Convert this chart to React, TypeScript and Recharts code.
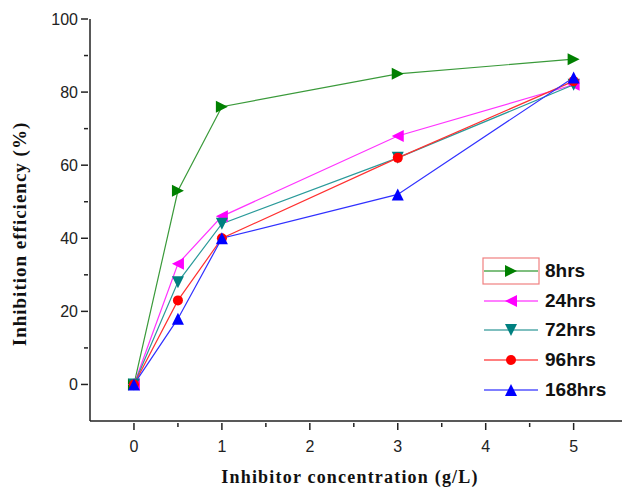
import { LineChart, Line, XAxis, YAxis, Legend } from "recharts";

const concentrations = [0, 0.5, 1, 3, 5];
const hrs8 = [0, 53, 76, 85, 89];
const hrs24 = [0, 33, 46, 68, 82];
const hrs72 = [0, 28, 44, 62, 82];
const hrs96 = [0, 23, 40, 62, 83];
const hrs168 = [0, 18, 40, 52, 84];

const xTicks = [-0.5, 0, 0.5, 1, 1.5, 2, 2.5, 3, 3.5, 4, 4.5, 5, 5.5];
const yTicks = [-10, 0, 10, 20, 30, 40, 50, 60, 70, 80, 90, 100];

const data = concentrations.map((c, i) => ({
  c,
  h8: hrs8[i],
  h24: hrs24[i],
  h72: hrs72[i],
  h96: hrs96[i],
  h168: hrs168[i],
}));

type Shape = "right" | "left" | "down" | "circle" | "up";

const series: { key: string; name: string; color: string; line: string; shape: Shape }[] = [
  { key: "h8", name: "8hrs", color: "#008000", line: "#3a9a3a", shape: "right" },
  { key: "h24", name: "24hrs", color: "#ff00ff", line: "#ff33ff", shape: "left" },
  { key: "h72", name: "72hrs", color: "#008080", line: "#2a9a9a", shape: "down" },
  { key: "h96", name: "96hrs", color: "#ff0000", line: "#ff3030", shape: "circle" },
  { key: "h168", name: "168hrs", color: "#0000ff", line: "#3030ff", shape: "up" },
];

const serif = "Times New Roman, Liberation Serif";
const sans = "Arial, Liberation Sans";

function Marker({ cx, cy, shape, color }: { cx: number; cy: number; shape: Shape; color: string }) {
  const r = 6;
  if (shape === "circle") return <circle cx={cx} cy={cy} r={5} fill={color} />;
  let pts = "";
  if (shape === "right") pts = `${cx - r},${cy - r} ${cx + r},${cy} ${cx - r},${cy + r}`;
  if (shape === "left") pts = `${cx + r},${cy - r} ${cx - r},${cy} ${cx + r},${cy + r}`;
  if (shape === "down") pts = `${cx - r},${cy - r} ${cx + r},${cy - r} ${cx},${cy + r}`;
  if (shape === "up") pts = `${cx - r},${cy + r} ${cx + r},${cy + r} ${cx},${cy - r}`;
  return <polygon points={pts} fill={color} />;
}

const XTick = (props: any) => {
  const { x, y, payload } = props;
  const v = payload.value;
  const major = Number.isInteger(v);
  if (v < -0.4 || v > 5.4) return <g />;
  return (
    <g>
      <line x1={x} y1={y} x2={x} y2={y + (major ? 7 : 4)} stroke="#222" strokeWidth={1.5} />
      {major && (
        <text x={x} y={y + 29} textAnchor="middle" fontFamily={sans} fontSize={16} fill="#222">
          {v}
        </text>
      )}
    </g>
  );
};

const YTick = (props: any) => {
  const { x, y, payload } = props;
  const v = payload.value;
  if (v === -10) return <g />;
  const major = v % 20 === 0;
  return (
    <g>
      <line x1={x} y1={y} x2={x - (major ? 7 : 4)} y2={y} stroke="#222" strokeWidth={1.5} />
      {major && (
        <text x={x - 10} y={y + 6} textAnchor="end" fontFamily={sans} fontSize={16} fill="#222">
          {v}
        </text>
      )}
    </g>
  );
};

const XLabel = () => (
  <text x={350} y={483} textAnchor="middle" fontFamily={serif} fontWeight="bold" fontSize={18} letterSpacing={1.2} fill="#111">
    Inhibitor concentration (g/L)
  </text>
);

const YLabel = () => (
  <text
    x={26}
    y={234}
    transform="rotate(-90 26 234)"
    textAnchor="middle"
    fontFamily={serif}
    fontWeight="bold"
    fontSize={19}
    letterSpacing={1}
    fill="#111"
  >
    Inhibition efficiency (%)
  </text>
);

const LegendBox = () => (
  <div style={{ fontFamily: sans, fontWeight: "bold", fontSize: 19 }}>
    {series.map((s, i) => (
      <div key={s.key} style={{ display: "flex", alignItems: "center", height: 29.7 }}>
        <svg width={58} height={28}>
          {i === 0 && <rect x={1} y={1} width={56} height={26} fill="none" stroke="#f08080" strokeWidth={1.2} />}
          <line x1={2} y1={14} x2={56} y2={14} stroke={s.color} strokeWidth={1.2} />
          <Marker cx={29} cy={14} shape={s.shape} color={s.color} />
        </svg>
        <span style={{ marginLeft: 5, color: "#111" }}>{s.name}</span>
      </div>
    ))}
  </div>
);

export default function App() {
  return (
    <div style={{ position: "absolute", left: 0, top: 0, background: "#fff" }}>
      <LineChart width={622} height={491} data={data} margin={{ top: 19, right: 0, left: 0, bottom: 0 }}>
        <XAxis
          dataKey="c"
          type="number"
          domain={[-0.5, 5.55]}
          ticks={xTicks}
          interval={0}
          height={70}
          tickLine={false}
          tickSize={0}
          tick={<XTick />}
          axisLine={{ stroke: "#222", strokeWidth: 1.5 }}
          label={<XLabel />}
        />
        <XAxis
          xAxisId="top"
          orientation="top"
          dataKey="c"
          type="number"
          domain={[-0.5, 5.55]}
          height={0}
          tick={false}
          tickLine={false}
          axisLine={{ stroke: "#333", strokeWidth: 1.5 }}
        />
        <YAxis
          type="number"
          domain={[-10, 100]}
          ticks={yTicks}
          interval={0}
          width={90}
          tickLine={false}
          tickSize={0}
          tick={<YTick />}
          axisLine={{ stroke: "#222", strokeWidth: 1.5 }}
          label={<YLabel />}
        />
        {series.map((s) => (
          <Line
            key={s.key}
            dataKey={s.key}
            name={s.name}
            type="linear"
            stroke={s.line}
            strokeWidth={1.2}
            isAnimationActive={false}
            dot={(p: any) => <Marker key={`${s.key}-${p.index}`} cx={p.cx} cy={p.cy} shape={s.shape} color={s.color} />}
            activeDot={false}
          />
        ))}
        <Legend
          layout="horizontal"
          verticalAlign="middle"
          align="center"
          content={<LegendBox />}
          wrapperStyle={{ left: 482, top: 256, width: 140 }}
        />
      </LineChart>
    </div>
  );
}
